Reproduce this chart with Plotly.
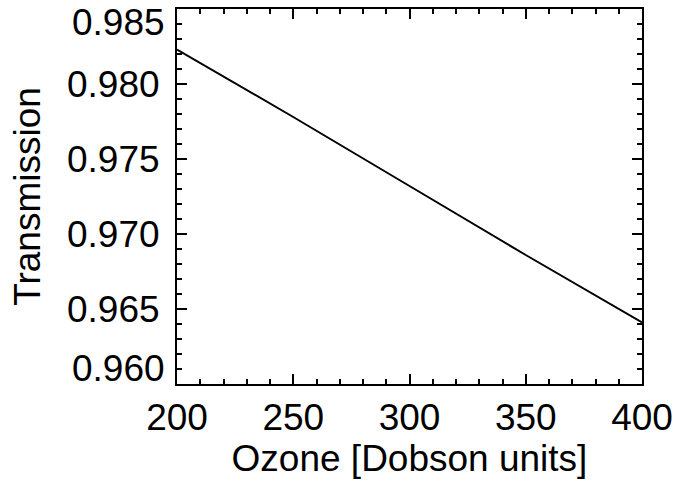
import plotly.graph_objects as go

ozone = [200, 250, 300, 350, 400]
transmission = [0.9823, 0.9778, 0.9732, 0.9686, 0.9641]
x_ticks = [200, 250, 300, 350, 400]
y_ticks_mid = [0.965, 0.970, 0.975, 0.980]
y_tick_text_mid = ["0.965", "0.970", "0.975", "0.980"]
y_end_vals = [0.960, 0.985]
y_end_text = ["0.960", "0.985"]

FONT = "Liberation Sans, Arial, Helvetica, sans-serif"
FS = 37

fig = go.Figure()
fig.add_trace(go.Scatter(x=ozone, y=transmission, mode="lines",
                         line=dict(color="black", width=2), showlegend=False))

axis_common = dict(
    showline=True, linecolor="black", linewidth=2, mirror="ticks",
    ticks="inside", ticklen=10, tickwidth=1.5, tickcolor="black",
    showgrid=False, zeroline=False, automargin=False,
    tickfont=dict(family=FONT, size=FS, color="black"),
)

fig.update_xaxes(range=[200, 400], tickvals=x_ticks,
                 minor=dict(dtick=10, ticks="inside", ticklen=5, tickwidth=1.5, tickcolor="black"),
                 title=dict(text="Ozone [Dobson units]", font=dict(family=FONT, size=FS, color="black"), standoff=0),
                 ticklabelstandoff=0,
                 **axis_common)
fig.update_yaxes(range=[0.960, 0.985], tickvals=y_ticks_mid, ticktext=y_tick_text_mid,
                 minor=dict(dtick=0.001, ticks="inside", ticklen=5, tickwidth=1.5, tickcolor="black"),
                 title=dict(text="Transmission", font=dict(family=FONT, size=FS, color="black"), standoff=15),
                 ticklabelstandoff=8,
                 **axis_common)

for v, t, anchor, ys in zip(y_end_vals, y_end_text, ["bottom", "top"], [-7, 9]):
    fig.add_annotation(x=0, xref="paper", y=v, yref="y", text=t, showarrow=False,
                       xanchor="right", yanchor=anchor, xshift=-10, yshift=ys,
                       font=dict(family=FONT, size=FS, color="black"))

fig.update_layout(
    width=675, height=486,
    margin=dict(l=177, r=33, t=9, b=102),
    paper_bgcolor="white", plot_bgcolor="white",
)

fig.write_html("out.html", config={"displayModeBar": False})
with open("out.html", encoding="utf-8") as f:
    html = f.read()
html = html.replace("<head>", "<head><style>html,body{margin:0;padding:0;overflow:hidden;}</style>", 1)
with open("out.html", "w", encoding="utf-8") as f:
    f.write(html)
